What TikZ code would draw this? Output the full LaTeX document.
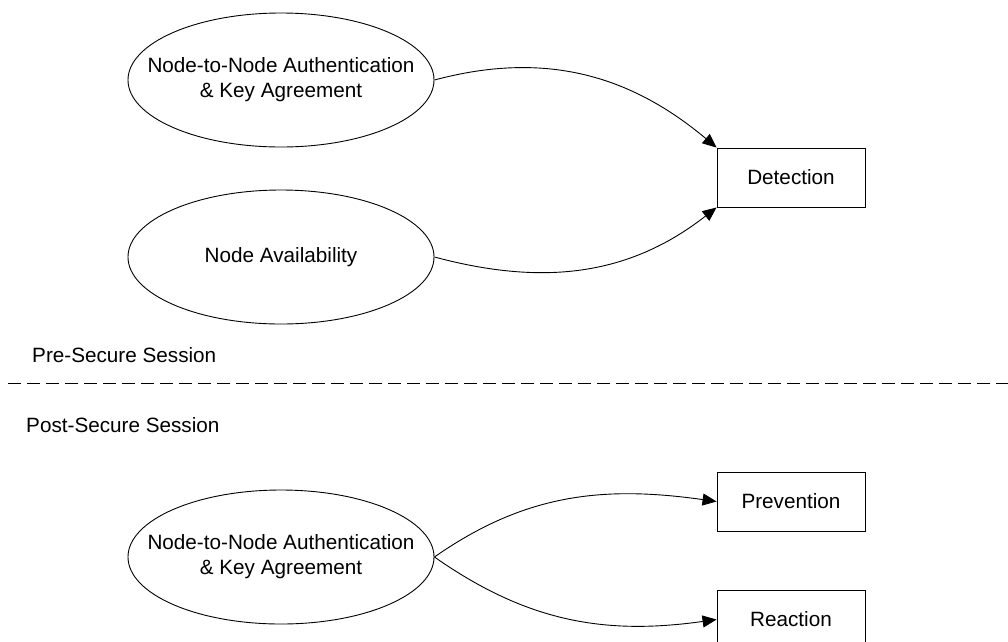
\documentclass[tikz,border=0pt]{standalone}
\usepackage{fontspec}
\setmainfont{Liberation Sans}
\usetikzlibrary{shapes.geometric,arrows.meta}
\begin{document}
\begin{tikzpicture}[x=1pt,y=-1pt,
  every node/.style={font=\fontsize{20.7}{25}\selectfont},
  oval/.style={draw,line width=0.9pt,ellipse,minimum width=306pt,minimum height=134pt,inner xsep=-60pt,inner ysep=0pt,align=center},
  box/.style={draw,line width=0.9pt,rectangle,minimum width=148pt,minimum height=59pt,inner sep=0pt},
  arr/.style={line width=0.9pt,-{Triangle[length=14pt,width=12pt]}},
  lbl/.style={anchor=base west,inner sep=0pt}]
\useasboundingbox (0,0) rectangle (1008,641);
\node[oval] (e1) at (281,80) {Node-to-Node Authentication\\\& Key Agreement};
\node[oval] (e2) at (281,257) {Node Availability};
\node[oval] (e3) at (281,557) {Node-to-Node Authentication\\\& Key Agreement};
\node[box] (det) at (791,177.5) {Detection};
\node[box] (prev) at (791,501.5) {Prevention};
\node[box] (react) at (791,619.5) {Reaction};
\node[lbl] (pre) at (32,362) {Pre-Secure Session};
\node[lbl] (post) at (26,432) {Post-Secure Session};
\coordinate (dl) at (8,383);
\coordinate (dr) at (1008,383);
\draw[line width=0.9pt,dash pattern=on 13pt off 6pt] (dl) -- (dr);
\draw[arr] (e1.east) to[out=15,in=140] (det.north west);
\draw[arr] (e2.east) to[out=-15,in=-142] (det.south west);
\draw[arr] (e3.east) to[out=35,in=172] (prev.west);
\draw[arr] (e3.east) to[out=-35,in=-172] (react.west);
\end{tikzpicture}
\end{document}
